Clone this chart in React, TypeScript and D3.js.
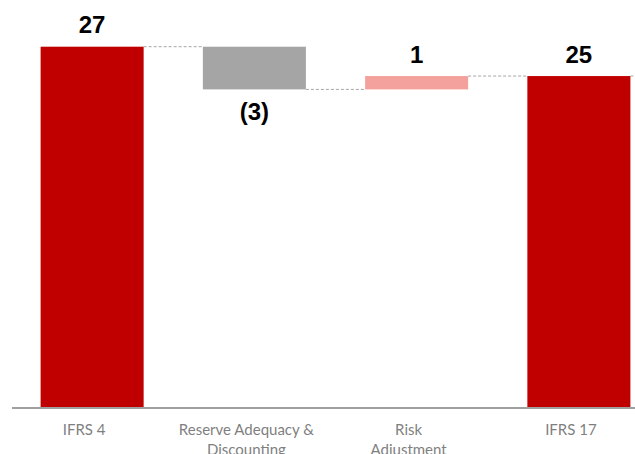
import React from "react";
import * as d3 from "d3";

const categories = ["IFRS 4", "Reserve Adequacy & Discounting", "Risk Adjustment", "IFRS 17"];
const labelLines = [["IFRS 4"], ["Reserve Adequacy &", "Discounting"], ["Risk", "Adjustment"], ["IFRS 17"]];
const values = [27, -3.2, 1.0, 24.8];
const kinds = ["total", "delta", "delta", "total"];
const valueLabels = ["27", "(3)", "1", "25"];

const W = 635;
const H = 454;
const baseY = 407;
const topY = 46.7;

const colorFor = (kind: string, v: number) =>
  kind === "total" ? "#C00000" : v < 0 ? "#A5A5A5" : "#F4A09C";

export default function App() {
  const x = d3
    .scaleBand<string>()
    .domain(categories)
    .range([11, 660])
    .paddingInner(0.365)
    .paddingOuter(0.1825);
  const y = d3.scaleLinear().domain([0, 27]).range([baseY, topY]);

  let running = 0;
  const bars = categories.map((c, i) => {
    const v = values[i];
    let start: number, end: number;
    if (kinds[i] === "total") {
      start = 0;
      end = v;
      running = v;
    } else {
      start = running;
      end = running + v;
      running = end;
    }
    return { c, i, v, start, end, level: end };
  });

  const bw = x.bandwidth();

  return (
    <svg width={W} height={H} style={{ position: "absolute", left: 0, top: 0 }}>
      <rect width={W} height={H} fill="#ffffff" />
      {bars.map((b, i) => {
        if (i === bars.length - 1) {
          const x0 = (x(b.c) as number) + bw;
          return (
            <line key={"c" + i} x1={x0} x2={W} y1={y(b.level)} y2={y(b.level)}
              stroke="#A6A6A6" strokeWidth={1} strokeDasharray="3,2" />
          );
        }
        const next = bars[i + 1];
        const x0 = (x(b.c) as number) + bw;
        const x1 = x(next.c) as number;
        return (
          <line key={"c" + i} x1={x0} x2={x1} y1={y(b.level)} y2={y(b.level)}
            stroke="#A6A6A6" strokeWidth={1} strokeDasharray="3,2" />
        );
      })}
      {bars.map((b) => {
        const top = y(Math.max(b.start, b.end));
        const bottom = y(Math.min(b.start, b.end));
        return (
          <rect key={b.c} x={x(b.c)} y={top} width={bw} height={bottom - top}
            fill={colorFor(kinds[b.i], b.v)} />
        );
      })}
      <line x1={12} x2={W} y1={408} y2={408} stroke="#A0A0A0" strokeWidth={2} />
      {bars.map((b) => {
        const cx = (x(b.c) as number) + bw / 2;
        const neg = b.v < 0;
        const ty = neg ? y(Math.min(b.start, b.end)) + 30.5 : y(Math.max(b.start, b.end)) - 13.5;
        return (
          <text key={"v" + b.c} x={cx} y={ty} textAnchor="middle"
            fontFamily="'Liberation Sans', Arial, sans-serif" fontWeight="bold" fontSize={24} fill="#000">
            {valueLabels[b.i]}
          </text>
        );
      })}
      {bars.map((b) => {
        const cx = (x(b.c) as number) + bw / 2 - 8;
        return (
          <text key={"l" + b.c} x={cx} y={435} textAnchor="middle"
            fontFamily="Lato, 'Open Sans', sans-serif" fontSize={15} fill="#7F7F7F">
            {labelLines[b.i].map((ln, k) => (
              <tspan key={k} x={cx} dy={k === 0 ? 0 : 20}>{ln}</tspan>
            ))}
          </text>
        );
      })}
    </svg>
  );
}
